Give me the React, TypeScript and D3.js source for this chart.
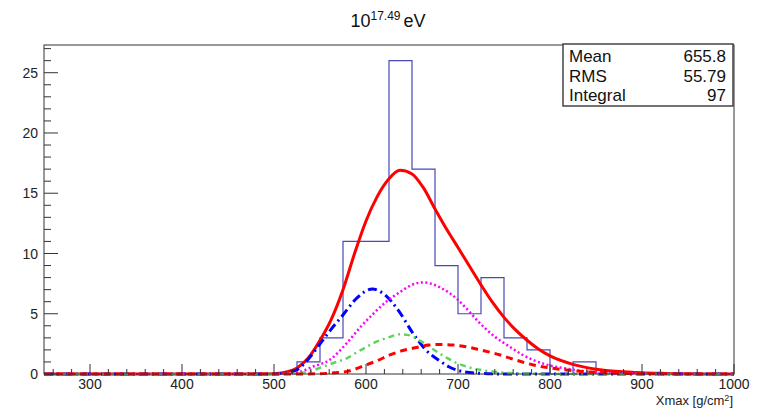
import React from "react";
import * as d3 from "d3";

// ---- data ----
const binLow = [525, 550, 575, 600, 625, 650, 675, 700, 725, 750, 775, 800, 825];
const binCounts = [1, 3, 11, 11, 26, 17, 9, 5, 8, 3, 2, 0, 1];
const binWidth = 25;

const xTicks = [300, 400, 500, 600, 700, 800, 900, 1000];
const yTicks = [0, 5, 10, 15, 20, 25];

const totalX = [250, 480, 500, 515, 525, 537, 550, 562, 575, 588, 600, 612, 625, 637, 650, 662, 675, 687, 700, 712, 725, 737, 750, 762, 775, 787, 800, 825, 850, 875, 900, 925, 950, 975, 1000];
const totalY = [0, 0, 0.03, 0.2, 0.5, 1.3, 2.8, 4.5, 7.0, 10.1, 12.7, 14.7, 16.2, 16.9, 16.6, 15.5, 13.7, 12.1, 10.5, 9.0, 7.4, 6.0, 4.7, 3.7, 2.8, 2.1, 1.5, 0.8, 0.4, 0.2, 0.1, 0.05, 0.02, 0.005, 0];

const protonX = [250, 490, 505, 515, 525, 537, 550, 562, 575, 590, 607, 620, 635, 650, 665, 680, 690, 700, 712, 725, 750, 1000];
const protonY = [0, 0, 0.03, 0.12, 0.35, 1.2, 2.5, 3.7, 4.9, 6.3, 7.05, 6.6, 5.3, 3.5, 2.0, 1.1, 0.6, 0.3, 0.12, 0.05, 0, 0];

const heliumX = [250, 500, 515, 525, 542, 561, 579, 594, 608, 622, 637, 650, 662, 680, 700, 712, 724, 740, 756, 770, 782, 800, 818, 840, 870, 900, 950, 1000];
const heliumY = [0, 0, 0.02, 0.1, 0.6, 1.2, 2.55, 3.9, 5.0, 6.0, 6.8, 7.4, 7.6, 7.2, 6.15, 5.2, 4.2, 3.1, 2.27, 1.6, 1.16, 0.7, 0.45, 0.2, 0.07, 0.02, 0, 0];

const nitrogenX = [250, 505, 525, 540, 553, 566, 579, 590, 601, 612, 623, 637, 648, 659, 670, 680, 690, 699, 712, 724, 740, 756, 780, 800, 1000];
const nitrogenY = [0, 0, 0.05, 0.25, 0.6, 0.95, 1.3, 1.8, 2.27, 2.7, 3.0, 3.3, 3.2, 2.75, 2.2, 1.7, 1.25, 0.9, 0.55, 0.35, 0.18, 0.08, 0.02, 0, 0];

const ironX = [250, 530, 550, 565, 580, 600, 612, 626, 640, 655, 668, 680, 695, 710, 724, 745, 757, 770, 782, 800, 818, 840, 870, 900, 950, 1000];
const ironY = [0, 0, 0.02, 0.1, 0.22, 0.75, 1.1, 1.58, 1.95, 2.2, 2.4, 2.45, 2.4, 2.25, 2.0, 1.6, 1.3, 1.0, 0.75, 0.5, 0.33, 0.18, 0.07, 0.03, 0, 0];

const statsLabels = ["Mean", "RMS", "Integral"];
const statsValues = ["655.8", "55.79", "97"];

// ---- layout ----
const W = 757;
const H = 409;
const fl = 44, fr = 734, ft = 45, fb = 374;
const font = "'Liberation Sans', Arial, Helvetica, sans-serif";

export default function App() {
  const x = d3.scaleLinear().domain([250, 1000]).range([fl, fr]);
  const y = d3.scaleLinear().domain([0, 27.3]).range([fb, ft]);

  const line = d3
    .line<[number, number]>()
    .x((d) => x(d[0]))
    .y((d) => y(d[1]))
    .curve(d3.curveMonotoneX);

  const zip = (a: number[], b: number[]) => a.map((v, i) => [v, b[i]] as [number, number]);

  // histogram outline
  let histPath = `M${x(binLow[0])},${y(0)}`;
  binCounts.forEach((c, i) => {
    histPath += `L${x(binLow[i])},${y(c)}L${x(binLow[i] + binWidth)},${y(c)}`;
  });
  histPath += `L${x(binLow[binLow.length - 1] + binWidth)},${y(0)}`;

  const xMinor = d3.range(260, 1000.1, 20).filter((v) => v % 100 !== 0);
  const yMinor = d3.range(0, 27.01, 1).filter((v) => v % 5 !== 0);

  const curves = [
    { d: zip(protonX, protonY), color: "#0000ff", dash: "9 4 2 4", w: 3 },
    { d: zip(heliumX, heliumY), color: "#ff00ff", dash: "2 2.5", w: 2.5 },
    { d: zip(nitrogenX, nitrogenY), color: "#5fd35f", dash: "6 4 2 4", w: 2.5 },
    { d: zip(ironX, ironY), color: "#ff0000", dash: "7 5", w: 3 },
  ];

  return (
    <svg width={W} height={H} style={{ position: "absolute", left: 0, top: 0, background: "#fff" }}>
      <defs>
        <clipPath id="frameClip">
          <rect x={fl} y={ft} width={fr - fl} height={fb - ft + 2} />
        </clipPath>
      </defs>
      <rect x={0} y={0} width={W} height={H} fill="#fff" />

      {/* title */}
      <text x={388} y={27} textAnchor="middle" fontFamily={font} fontSize={18} fill="#111">
        10
        <tspan dy={-7} fontSize={12}>17.49</tspan>
        <tspan dy={7} dx={3}>eV</tspan>
      </text>

      {/* histogram */}
      <path d={histPath} fill="none" stroke="#4848b8" strokeWidth={1.2} clipPath="url(#frameClip)" />

      {/* fits */}
      <g clipPath="url(#frameClip)">
        <path d={line(zip(totalX, totalY)) || ""} fill="none" stroke="#ff0000" strokeWidth={3} />
        {curves.map((c, i) => (
          <path key={i} d={line(c.d) || ""} fill="none" stroke={c.color} strokeWidth={c.w} strokeDasharray={c.dash} />
        ))}
      </g>

      {/* frame */}
      <rect x={fl} y={ft} width={fr - fl} height={fb - ft} fill="none" stroke="#333" strokeWidth={1} />

      {/* x ticks */}
      {xTicks.map((t) => (
        <g key={"xt" + t}>
          <line x1={x(t)} x2={x(t)} y1={fb} y2={fb - 10} stroke="#333" />
          <text x={x(t)} y={389} textAnchor="middle" fontFamily={font} fontSize={14} fill="#222">
            {t}
          </text>
        </g>
      ))}
      {xMinor.map((t) => (
        <line key={"xm" + t} x1={x(t)} x2={x(t)} y1={fb} y2={fb - 5} stroke="#333" />
      ))}

      {/* y ticks */}
      {yTicks.map((t) => (
        <g key={"yt" + t}>
          <line x1={fl} x2={fl + 14} y1={y(t)} y2={y(t)} stroke="#333" />
          <text x={38} y={y(t)} dy="0.36em" textAnchor="end" fontFamily={font} fontSize={14} fill="#222">
            {t}
          </text>
        </g>
      ))}
      {yMinor.map((t) => (
        <line key={"ym" + t} x1={fl} x2={fl + 7} y1={y(t)} y2={y(t)} stroke="#333" />
      ))}

      {/* x axis title */}
      <text x={733} y={405} textAnchor="end" fontFamily={font} fontSize={13} fill="#222">
        Xmax [g/cm
        <tspan dy={-4} fontSize={9}>2</tspan>
        <tspan dy={4}>]</tspan>
      </text>

      {/* stats box */}
      <rect x={563} y={44} width={170} height={62} fill="#fff" stroke="#444" strokeWidth={1.5} />
      {statsLabels.map((s, i) => (
        <g key={s}>
          <text x={569} y={62 + i * 19.5} fontFamily={font} fontSize={17} fill="#111">
            {s}
          </text>
          <text x={726} y={62 + i * 19.5} textAnchor="end" fontFamily={font} fontSize={17} fill="#111">
            {statsValues[i]}
          </text>
        </g>
      ))}
    </svg>
  );
}
